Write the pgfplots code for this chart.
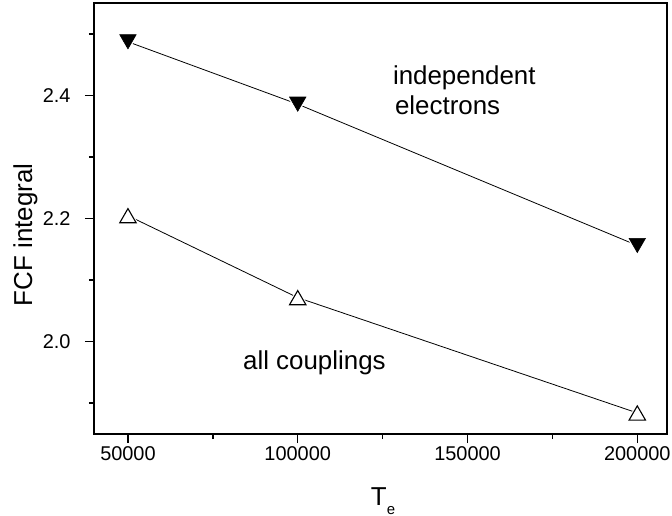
\documentclass[border=0pt]{standalone}
\usepackage{fontspec}
\setmainfont{Liberation Sans}
\usepackage{pgfplots}
\pgfplotsset{compat=1.18}
\begin{document}
\begin{tikzpicture}
\begin{axis}[
  scale only axis, width=573bp, height=431bp,
  xmin=40000, xmax=208750, ymin=1.85, ymax=2.55,
  axis line style={line width=1.7bp},
  xtick={50000,100000,150000,200000},
  xticklabels={50000,100000,150000,200000},
  ytick={2.0,2.2,2.4},
  yticklabels={2.0,2.2,2.4},
  minor xtick={75000,125000,175000},
  minor ytick={1.9,2.1,2.3,2.5},
  tick align=outside, xtick pos=bottom, ytick pos=left,
  major tick length=9bp, minor tick length=5bp,
  every tick/.style={black, line width=1.5bp},
  scaled x ticks=false, scaled y ticks=false,
  xticklabel style={font=\fontsize{20}{24}\selectfont},
  yticklabel style={font=\fontsize{20}{24}\selectfont, xshift=-11bp},
  xlabel={T\raisebox{-9bp}{\fontsize{15}{15}\selectfont e}},
  ylabel={FCF integral},
  label style={font=\fontsize{26}{30}\selectfont},
  xlabel style={at={(axis description cs:0.5044,-0.1230)}, anchor=north, inner sep=0pt},
  ylabel style={at={(axis description cs:-0.1082,0.4617)}, anchor=base, inner sep=0pt},
]
\coordinate (O) at (rel axis cs:0,0);
% lines
\addplot[black, line width=0.8bp] coordinates {(50000,2.487)(100000,2.3857)(200000,2.1562)};
\addplot[black, line width=0.8bp] coordinates {(50000,2.2046)(100000,2.0715)(200000,1.8842)};
% white halos for gaps
\addplot[only marks, mark=triangle*, mark size=13pt, mark options={yshift=3.25pt, rotate=180, draw=white, fill=white}] coordinates {(50000,2.487)(100000,2.3857)(200000,2.1562)};
\addplot[only marks, mark=triangle*, mark size=13pt, mark options={yshift=-3.25pt, draw=white, fill=white}] coordinates {(50000,2.2046)(100000,2.0715)(200000,1.8842)};
% markers
\addplot[only marks, mark=triangle*, mark size=9.5pt, mark options={yshift=2.4pt, rotate=180, draw=black, fill=black, line width=0.6bp}] coordinates {(50000,2.487)(100000,2.3857)(200000,2.1562)};
\addplot[only marks, mark=triangle, mark size=9.5pt, mark options={yshift=-2.4pt, draw=black, fill=white, line width=1.1bp}] coordinates {(50000,2.2046)(100000,2.0715)(200000,1.8842)};
\node[anchor=base west, inner sep=0pt, font=\fontsize{26}{30}\selectfont] at (axis cs:128000,2.417) {independent};
\node[anchor=base west, inner sep=0pt, font=\fontsize{26}{30}\selectfont] at (axis cs:128600,2.369) {electrons};
\node[anchor=base west, inner sep=0pt, font=\fontsize{26}{30}\selectfont] at (axis cs:83860,1.9545) {all couplings};
\end{axis}
\pgfresetboundingbox
\path (O) ++(-94bp,-82bp) rectangle ++(672bp,516bp);
\end{tikzpicture}
\end{document}
